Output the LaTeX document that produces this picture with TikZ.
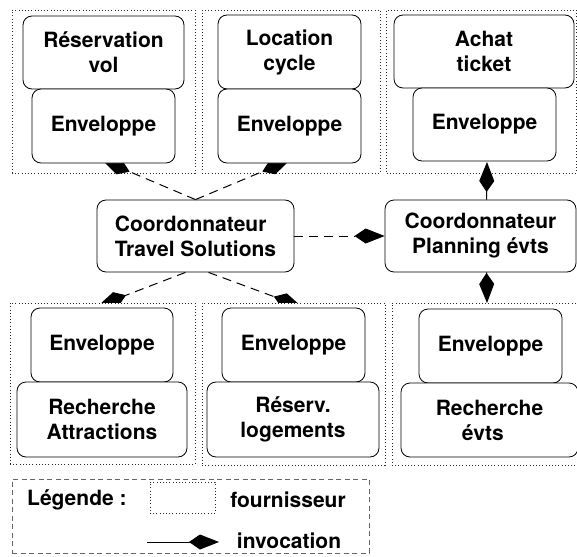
\documentclass[tikz,border=0pt]{standalone}
\usepackage{fontspec}
\setmainfont{TeX Gyre Heros}
\usetikzlibrary{arrows.meta}
\begin{document}
\begin{tikzpicture}[x=1pt,y=-1pt,
  txt/.style={font=\fontsize{21}{25}\selectfont\bfseries},
  box/.style={txt, draw, line width=0.8pt, rounded corners=9pt, fill=white, align=center, inner sep=0pt},
  prov/.style={draw=black!85, line width=0.9pt, dash pattern=on 0.9pt off 2.3pt, inner sep=0pt},
  kite/.style={-{Kite[length=30pt,width=15pt,inset=11pt]}},
  inv/.style={kite, line width=1pt, dash pattern=on 9pt off 6pt},
  lbl/.style={txt, inner sep=0pt}]
\useasboundingbox (0,0) rectangle (577,556);
% top providers (dotted, no fill)
\node[prov, minimum width=183pt, minimum height=163pt] (p1) at (103.5,91.5) {};
\node[prov, minimum width=178pt, minimum height=163pt] (p2) at (291,91.5) {};
\node[prov, minimum width=190pt, minimum height=163pt] (p3) at (481.5,91.5) {};
% central coordinators
\node[box, minimum width=197pt, minimum height=72pt, align=left] (ts) at (195.5,236) {Coordonnateur\\Travel Solutions};
\node[box, minimum width=191pt, minimum height=72pt] (pe) at (480.5,236) {Coordonnateur\\Planning évts};
% targets of invocations
\coordinate (t1) at (102,160);
\coordinate (t2) at (290,160);
\coordinate (t4) at (98,306);
\coordinate (t5) at (302,307);
% invocations
\draw[inv] (ts.north) -- (t1);
\draw[inv] (ts.north) -- (t2);
\draw[inv] ([xshift=-10pt]ts.south) -- (t4);
\draw[inv] ([xshift=13pt]ts.south) -- (t5);
\draw[inv] (ts.east) -- (pe.west);
\coordinate (t3) at (487,162);
\coordinate (t6) at (487,303);
\draw[kite, line width=1pt] ([xshift=6pt]pe.north) -- (t3);
\draw[kite, line width=1pt] ([xshift=6pt]pe.south) -- (t6);
% bottom providers (dotted, white fill)
\node[prov, fill=white, minimum width=185pt, minimum height=161pt] (p4) at (102.5,383.5) {};
\node[prov, fill=white, minimum width=183pt, minimum height=162pt] (p5) at (293.5,384) {};
\node[prov, fill=white, minimum width=190pt, minimum height=162pt] (p6) at (487,384) {};
% top row services
\node[box, minimum width=161pt, minimum height=73pt] (rv) at (103.5,52.5) {Réservation\\vol};
\node[box, minimum width=143pt, minimum height=74pt] (e1) at (103.5,126) {Enveloppe};
\node[box, minimum width=143pt, minimum height=74pt] (lc) at (289.5,52) {Location\\cycle};
\node[box, minimum width=143pt, minimum height=74pt] (e2) at (289.5,126) {Enveloppe};
\node[box, minimum width=180pt, minimum height=73pt] (at) at (484,51.5) {Achat\\ticket};
\node[box, minimum width=143pt, minimum height=73pt] (e3) at (484.5,124.5) {Enveloppe};
% bottom row services
\node[box, minimum width=142pt, minimum height=74pt] (e4) at (102,345) {Enveloppe};
\node[box, minimum width=170pt, minimum height=75pt] (ra) at (102,419.5) {Recherche\\Attractions};
\node[box, minimum width=143pt, minimum height=74pt] (e5) at (293.5,345) {Enveloppe};
\node[box, minimum width=172pt, minimum height=75pt] (rl) at (293,419.5) {Réserv.\\logements};
\node[box, minimum width=143pt, minimum height=74pt] (e6) at (490.5,346) {Enveloppe};
\node[box, minimum width=177pt, minimum height=74pt, align=left] (re) at (489.5,420) {Recherche\\\hspace*{26pt}évts};
% legend
\node[draw=black!60, line width=0.8pt, dash pattern=on 5pt off 3.5pt, minimum width=357pt, minimum height=74pt, inner sep=0pt] (leg) at (190.5,516) {};
\node[lbl, anchor=west] (lgt) at (27,500) {Légende :};
\node[prov, minimum width=65pt, minimum height=31pt] (lgbox) at (182.5,497.5) {};
\node[lbl] (lgf) at (288,500) {fournisseur};
\coordinate (la) at (147,542);
\coordinate (lb) at (219,542);
\draw[kite, line width=1pt] (la) -- (lb);
\node[lbl] (lgi) at (289,541) {invocation};
\end{tikzpicture}
\end{document}
